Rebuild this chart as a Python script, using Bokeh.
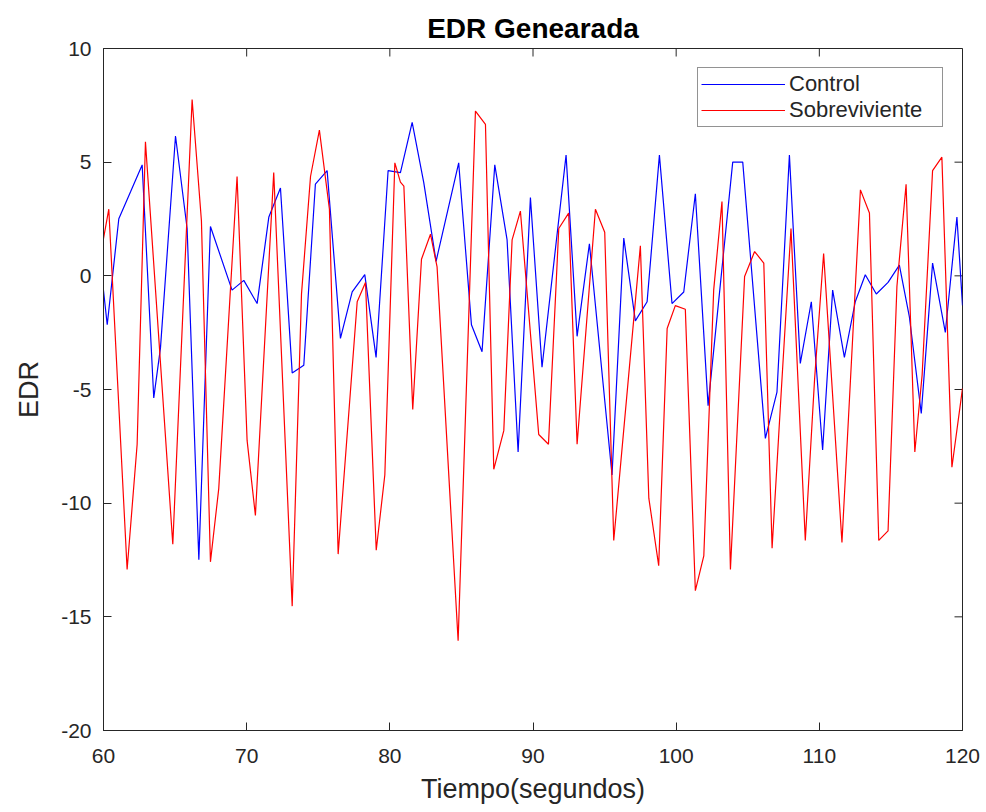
import math
from bokeh.plotting import figure
from bokeh.models import Range1d, FixedTicker, Legend, LegendItem
from bokeh.embed import file_html
from bokeh.resources import INLINE

# ---- data ----
t_control = [59.79, 60.26, 61.07, 61.89, 62.70, 63.51, 63.98, 65.03, 65.84, 66.66,
             67.47, 68.98, 69.80, 70.73, 71.55, 72.36, 73.18, 73.99, 74.80, 75.62,
             76.55, 77.37, 78.25, 79.04, 79.88, 80.74, 81.56, 82.37, 83.23, 84.81,
             85.70, 86.44, 87.33, 88.19, 88.96, 89.82, 90.63, 92.31, 93.08, 93.94,
             95.52, 96.34, 97.15, 97.97, 98.83, 99.71, 100.53, 101.34, 102.23, 103.95,
             104.65, 106.23, 107.04, 107.91, 108.67, 109.44, 110.23, 110.93, 111.75, 112.51,
             113.21, 113.98, 114.80, 115.59, 116.29, 117.12, 117.91, 118.80, 119.61, 120.0]
edr_control = [0.56, -2.15, 2.51, 3.7, 4.88, -5.37, -3.17, 6.15, 2.08, -12.49,
               2.17, -0.63, -0.2, -1.22, 2.59, 3.86, -4.27, -3.93, 4.03, 4.63,
               -2.75, -0.71, 0.05, -3.59, 4.63, 4.54, 6.75, 4.1, 0.64, 4.97,
               -2.15, -3.34, 4.88, 1.58, -7.75, 3.44, -4.02, 5.31, -2.66, 1.41,
               -8.76, 1.66, -1.98, -1.14, 5.31, -1.22, -0.71, 3.61, -5.71, 5.0,
               5.0, -7.15, -5.12, 5.31, -3.85, -1.14, -7.66, -0.63, -3.59, -1.14,
               0.05, -0.8, -0.29, 0.47, -1.81, -6.05, 0.56, -2.49, 2.59, -1.3]

t_surv = [59.79, 60.37, 61.65, 62.35, 62.93, 64.84, 66.19, 66.84, 67.47, 68.05,
          69.33, 70.03, 70.61, 71.89, 73.18, 73.83, 74.46, 75.08, 75.78, 76.39,
          77.72, 78.30, 79.05, 79.65, 80.35, 80.74, 80.98, 81.60, 82.21, 82.84,
          83.30, 84.77, 85.98, 86.68, 87.26, 87.96, 88.54, 89.12, 90.40, 91.08,
          91.80, 92.49, 93.08, 94.36, 95.01, 95.64, 97.50, 98.09, 98.78, 99.37,
          99.94, 100.64, 101.34, 101.93, 102.62, 103.20, 103.79, 104.78, 105.48, 106.12,
          106.70, 107.33, 108.02, 109.02, 109.67, 110.30, 111.58, 112.87, 113.50, 114.15,
          114.80, 115.42, 116.06, 116.67, 117.18, 117.91, 118.56, 119.26, 120.0]
edr_surv = [0.9, 2.93, -12.92, -7.41, 5.9, -11.81, 7.76, 2.42, -12.58, -9.36,
            4.37, -7.24, -10.54, 4.54, -14.53, -0.8, 4.37, 6.41, 2.93, -12.24,
            -1.14, -0.29, -12.07, -8.76, 4.97, 4.12, 3.95, -5.88, 0.73, 1.83,
            0.39, -16.05, 7.25, 6.66, -8.51, -6.81, 1.58, 2.85, -6.98, -7.41,
            2.08, 2.76, -7.41, 2.93, 1.92, -11.64, 1.32, -9.78, -12.75, -2.32,
            -1.31, -1.47, -13.85, -12.32, -0.63, 3.27, -12.92, -0.03, 1.07, 0.56,
            -11.98, -5.2, 2.08, -11.64, -4.53, 0.98, -11.73, 3.78, 2.76, -11.64,
            -11.22, -0.46, 4.03, -7.75, -4.36, 4.63, 5.22, -8.42, -4.95]

x_ticks = [60, 70, 80, 90, 100, 110, 120]
y_ticks = [-20, -15, -10, -5, 0, 5, 10]
x_min, x_max = 60, 120
y_min, y_max = -20, 10

FONT = "Liberation Sans"
AX = "#262626"
TICK = 8

p = figure(width=986, height=812, output_backend="svg", toolbar_location=None,
           x_range=Range1d(x_min, x_max), y_range=Range1d(y_min, y_max),
           min_border_left=103, min_border_right=24, min_border_top=48, min_border_bottom=82,
           title="EDR Genearada", x_axis_label="Tiempo(segundos)", y_axis_label="EDR")
p.background_fill_color = "white"
p.border_fill_color = "white"
p.outline_line_color = AX
p.outline_line_width = 1
p.xgrid.visible = False
p.ygrid.visible = False

p.title.text_font = FONT
p.title.text_font_size = "28px"
p.title.text_font_style = "bold"
p.title.text_color = "#000000"
p.title.align = "center"

for ax, ticks in ((p.xaxis[0], x_ticks), (p.yaxis[0], y_ticks)):
    ax.ticker = FixedTicker(ticks=ticks)
    ax.major_label_overrides = {t: str(t) for t in ticks}
    ax.major_tick_in = TICK
    ax.major_tick_out = 0
    ax.minor_tick_in = 0
    ax.minor_tick_out = 0
    ax.axis_line_color = AX
    ax.major_tick_line_color = AX
    ax.major_label_text_font = FONT
    ax.major_label_text_font_size = "21px"
    ax.major_label_text_color = AX
    ax.axis_label_text_font = FONT
    ax.axis_label_text_font_size = "27px"
    ax.axis_label_text_font_style = "normal"
    ax.axis_label_text_color = AX
p.xaxis[0].major_label_standoff = 18
p.xaxis[0].axis_label_standoff = 8
p.yaxis[0].major_label_standoff = 12
p.yaxis[0].axis_label_standoff = 14

# inward ticks on the top and right edges (box on)
p.ray(x=x_ticks, y=[y_max] * len(x_ticks), length=TICK, length_units="screen",
      angle=-math.pi / 2, line_color=AX, line_width=1)
p.ray(x=[x_max] * len(y_ticks), y=y_ticks, length=TICK, length_units="screen",
      angle=math.pi, line_color=AX, line_width=1)

r1 = p.line(t_control, edr_control, line_color="#0000ff", line_width=1.2)
r2 = p.line(t_surv, edr_surv, line_color="#ff0000", line_width=1.2)

legend = Legend(items=[LegendItem(label="Control", renderers=[r1]),
                       LegendItem(label="Sobreviviente", renderers=[r2])],
                location=(594, 603))
legend.border_line_color = AX
legend.border_line_width = 1
legend.background_fill_color = "white"
legend.background_fill_alpha = 1
legend.label_text_font = FONT
legend.label_text_font_size = "22px"
legend.label_text_color = AX
legend.glyph_width = 84
legend.glyph_height = 20
legend.label_height = 20
legend.label_width = 150
legend.label_standoff = 4
legend.padding = 3
legend.spacing = 0
legend.margin = 0
p.add_layout(legend)

open("out.html", "w").write(file_html(p, INLINE))
